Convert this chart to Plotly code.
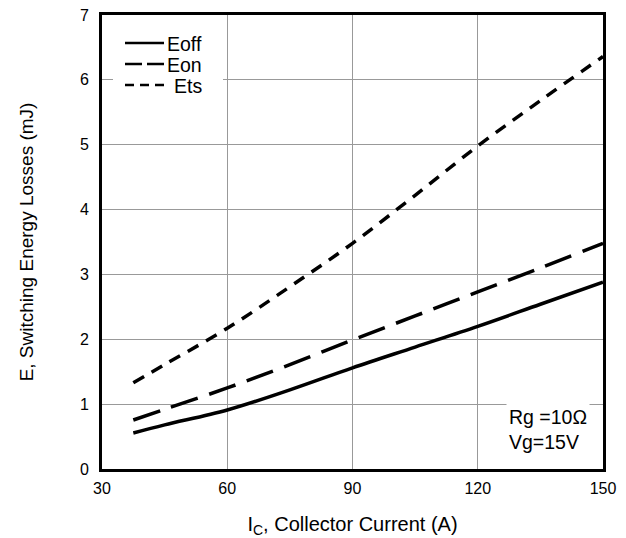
import plotly.graph_objects as go

current = [37.5, 45, 60, 75, 90, 105, 120, 135, 150]
eoff = [0.555, 0.68, 0.91, 1.22, 1.56, 1.88, 2.2, 2.54, 2.88]
eon = [0.755, 0.92, 1.25, 1.61, 1.99, 2.36, 2.73, 3.1, 3.48]
ets = [1.33, 1.61, 2.17, 2.81, 3.48, 4.22, 4.98, 5.68, 6.36]

series_names = ["Eoff", "Eon", "Ets"]
series_dash = ["solid", "28px,12px", "12px,9px"]
legend_dash = ["solid", "17px,5px", "9px,6px"]

x_ticks = [30, 60, 90, 120, 150]
y_ticks = [0, 1, 2, 3, 4, 5, 6, 7]

fig = go.Figure()
for name, ys, dash in zip(series_names, [eoff, eon, ets], series_dash):
    fig.add_trace(go.Scatter(x=current, y=ys, mode="lines", name=name,
                             line=dict(color="black", width=3.5, dash=dash, shape="spline")))

font = "Liberation Sans, Arial, sans-serif"
W, H = 626, 538
L, R, T, B = 102, 23, 15, 69
pw, ph = W - L - R, H - T - B

def px(xp):
    return (xp - L) / pw

def py(yp):
    return (H - B - yp) / ph

fig.update_layout(
    width=W, height=H,
    margin=dict(l=L, r=R, t=T, b=B, autoexpand=False),
    paper_bgcolor="white", plot_bgcolor="white",
    font=dict(family=font, color="black", size=16),
    showlegend=False,
    xaxis=dict(range=[30, 150], tickvals=x_ticks, showgrid=True,
               gridcolor="#999999", gridwidth=1, showline=True, linecolor="black",
               linewidth=3, mirror=True, ticks="", zeroline=False,
               tickfont=dict(size=16), ticklabelstandoff=3, automargin=False,
               title=dict(text="I<sub>C</sub>, Collector Current (A)", font=dict(size=20), standoff=26)),
    yaxis=dict(range=[0, 7], tickvals=y_ticks, showgrid=True,
               gridcolor="#999999", gridwidth=1, showline=True, linecolor="black",
               linewidth=3, mirror=True, ticks="", zeroline=False,
               tickfont=dict(size=16), ticklabelstandoff=7, automargin=False,
               title=dict(text="E, Switching Energy Losses (mJ)", font=dict(size=19), standoff=42)),
)

# legend box (manual, to match compact spacing)
fig.add_shape(type="rect", xref="paper", yref="paper", x0=px(113), x1=px(223), y0=py(97), y1=py(30),
              fillcolor="white", line=dict(width=0), layer="above")
leg_y = [43, 64, 85]
text_x = [166, 166, 173]
for name, dash, yy, tx in zip(series_names, legend_dash, leg_y, text_x):
    fig.add_shape(type="line", xref="paper", yref="paper", x0=px(125), x1=px(164), y0=py(yy), y1=py(yy),
                  line=dict(color="black", width=2.5, dash=dash), layer="above")
    fig.add_annotation(xref="paper", yref="paper", x=px(tx), y=py(yy + 1), xanchor="left", yanchor="middle",
                       text=name, showarrow=False, font=dict(size=19.5), borderpad=0)

fig.add_annotation(xref="paper", yref="paper", x=px(590), y=py(429), xanchor="right", yanchor="middle",
                   text="Rg =10Ω<br>Vg=15V", showarrow=False, align="left",
                   font=dict(size=19.5), bgcolor="white", borderpad=2)
fig.write_html("out.html")
